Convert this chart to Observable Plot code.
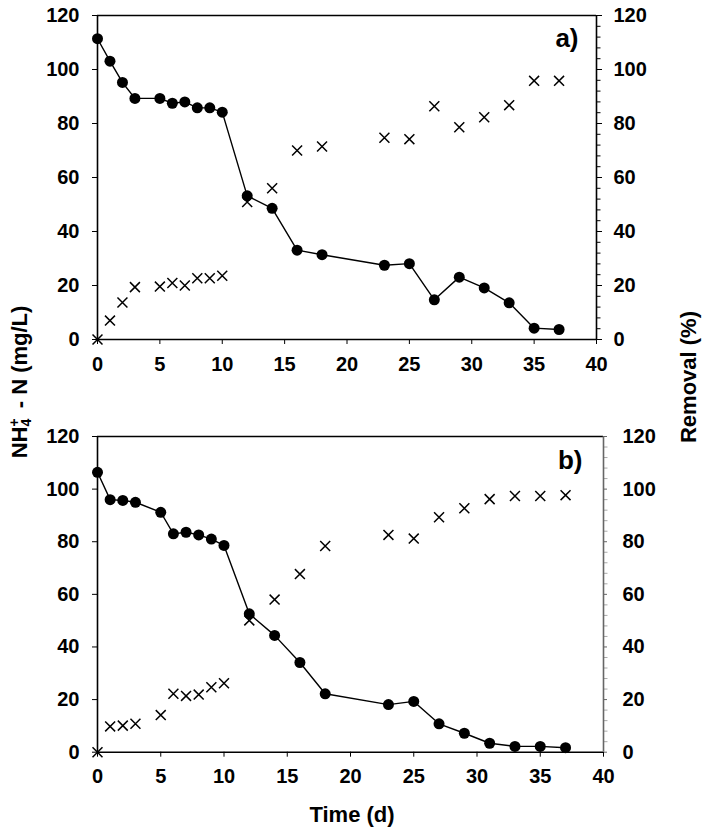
<!DOCTYPE html>
<html>
<head>
<meta charset="utf-8">
<script src="https://cdn.jsdelivr.net/npm/d3@7"></script>
<script src="https://cdn.jsdelivr.net/npm/@observablehq/plot@0.6"></script>
<style>
  html, body { margin: 0; padding: 0; background: #fff; }
  #wrap { position: relative; width: 709px; height: 832px; font-family: "Liberation Sans", Arial, sans-serif; font-weight: bold; color: #000; }
  .panel { position: absolute; left: 0; }
  .panel svg { overflow: visible; }
  .lab { position: absolute; font-size: 22px; white-space: nowrap; }
  .rot { transform: translate(-50%, -50%) rotate(-90deg); }
  .stack { display: inline-block; vertical-align: middle; line-height: 0.85; font-size: 14px; text-align: left; margin-right: 4px; }
</style>
</head>
<body>
<div id="wrap">
  <div id="pa" class="panel" style="top:0px"></div>
  <div id="pb" class="panel" style="top:420px"></div>
  <div class="lab rot" style="left:20px; top:382px;">NH<span class="stack">+<br>4</span> - N (mg/L)</div>
  <div class="lab rot" style="left:689px; top:377px;">Removal (%)</div>
  <div class="lab" style="left:352px; top:815px; transform: translate(-50%, -50%);">Time (d)</div>
</div>
<script>
const days = [0, 1, 2, 3, 5, 6, 7, 8, 9, 10, 12, 14, 16, 18, 23, 25, 27, 29, 31, 33, 35, 37];
const nh4A = [111.4, 103.1, 95.2, 89.3, 89.3, 87.5, 88.0, 85.8, 85.8, 84.2, 53.2, 48.6, 33.1, 31.4, 27.5, 28.1, 14.7, 23.1, 19.1, 13.6, 4.2, 3.7];
const remA = [0, 7.0, 13.7, 19.4, 19.6, 20.9, 20.0, 22.7, 22.7, 23.6, 50.9, 56.0, 70.0, 71.5, 74.7, 74.2, 86.4, 78.6, 82.3, 86.8, 95.8, 95.8];
const nh4B = [106.4, 96.0, 95.7, 95.0, 91.2, 83.0, 83.6, 82.6, 81.0, 78.6, 52.6, 44.4, 34.1, 22.2, 18.1, 19.3, 10.8, 7.2, 3.4, 2.2, 2.2, 1.7];
const remB = [0, 9.8, 10.1, 10.8, 14.1, 22.2, 21.4, 21.9, 24.7, 26.2, 50.1, 58.0, 67.7, 78.4, 82.6, 81.2, 89.3, 92.7, 96.2, 97.4, 97.4, 97.7];
const xTicks = [0, 5, 10, 15, 20, 25, 30, 35, 40];
const yTicks = [0, 20, 40, 60, 80, 100, 120];
const minorTicks = d3.range(0, 121, 4).filter(v => v % 20 !== 0);
const panelLabels = ["a)", "b)"];

function panel(nh4, rem, label, opts) {
  const data = days.map((t, i) => ({t, nh4: nh4[i], rem: rem[i]}));
  return Plot.plot({
    width: 709,
    height: opts.height,
    marginLeft: 97,
    marginRight: opts.marginRight,
    marginTop: opts.marginTop,
    marginBottom: opts.marginBottom,
    style: {fontFamily: "'Liberation Sans', Arial, sans-serif", fontSize: "20px", fontWeight: "bold", color: "#000", background: "transparent"},
    x: {domain: [0, 40]},
    y: {domain: [0, 120]},
    marks: [
      Plot.axisX({ticks: xTicks, tickSize: 5, tickPadding: opts.xPad, label: null, stroke: "#000"}),
      Plot.axisY({anchor: "left", ticks: yTicks, tickSize: 5, tickPadding: 13, label: null}),
      Plot.axisY({anchor: "right", ticks: yTicks, tickSize: opts.rMajor, tickPadding: opts.rPad, label: null, stroke: opts.rColor}),
      Plot.axisY({anchor: "right", ticks: minorTicks, tickSize: 3.5, tickFormat: () => "", label: null, stroke: opts.rMinorColor}),
      Plot.ruleY([0, 120], {stroke: "#000", strokeWidth: 1.6}),
      Plot.ruleX([0], {stroke: "#000", strokeWidth: 1.6}),
      Plot.ruleX([40], {stroke: opts.rColor, strokeWidth: 1.6}),
      Plot.line(data, {x: "t", y: "nh4", stroke: "#000", strokeWidth: 1.4}),
      Plot.dot(data, {x: "t", y: "nh4", r: 5.5, fill: "#000", stroke: "none"}),
      Plot.dot(data, {x: "t", y: "rem", symbol: "times", r: 4.6, stroke: "#000", strokeWidth: 1.5}),
      Plot.text([label], {frameAnchor: "top-right", text: d => d, dx: opts.labDx, dy: opts.labDy, lineAnchor: "top", textAnchor: "end", fontSize: 26, fontWeight: "bold", fill: "#000"})
    ]
  });
}

document.getElementById("pa").appendChild(panel(nh4A, remA, panelLabels[0], {
  height: 370, marginTop: 15, marginBottom: 31, marginRight: 113,
  xPad: 12, rMajor: 5, rPad: 12, rColor: "#000", rMinorColor: "#000", labDx: -18, labDy: 13
}));
document.getElementById("pb").appendChild(panel(nh4B, remB, panelLabels[1], {
  height: 380, marginTop: 16, marginBottom: 48.3, marginRight: 106,
  xPad: 12, rMajor: 3, rPad: 16, rColor: "#666", rMinorColor: "#aaa", labDx: -21, labDy: 14
}));
</script>
</body>
</html>
